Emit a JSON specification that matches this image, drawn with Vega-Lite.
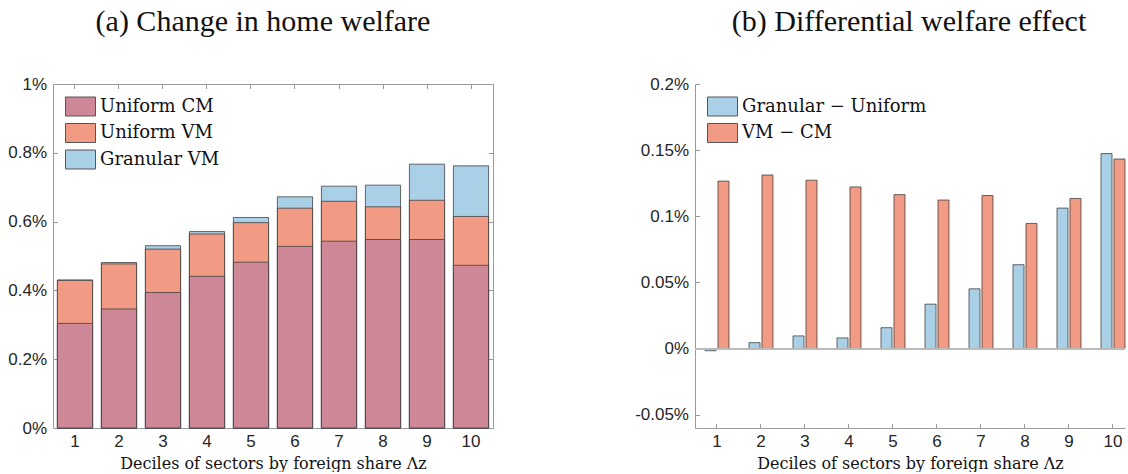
{
  "$schema": "https://vega.github.io/schema/vega-lite/v6.json",
  "padding": {"left": 7, "top": 6, "right": 0, "bottom": 0},
  "spacing": 140,
  "resolve": {"scale": {"color": "independent"}, "legend": {"color": "independent"}},
  "config": {
    "font": "Liberation Serif",
    "axis": {
      "labelFont": "Liberation Sans",
      "labelFontSize": 17,
      "labelColor": "#262626",
      "titleFont": "DejaVu Serif",
      "titleFontSize": 16,
      "titleFontWeight": "normal",
      "titleColor": "#111111",
      "domainColor": "#9a9a9a",
      "tickColor": "#9a9a9a",
      "grid": false
    },
    "title": {"font": "Liberation Serif", "fontSize": 30, "fontWeight": "normal", "color": "#111111", "anchor": "middle"},
    "legend": {"labelFont": "DejaVu Serif", "labelFontSize": 18, "labelColor": "#111111", "labelLimit": 400}
  },
  "hconcat": [
    {
      "width": 440,
      "height": 344,
      "view": {"stroke": "#9a9a9a", "strokeWidth": 1},
      "title": {"text": "(a) Change in home welfare", "baseline": "alphabetic", "offset": 14, "dx": -10},
      "data": {"values": [
        {"decile": 1, "series": "Granular VM", "value": 0.4305},
        {"decile": 2, "series": "Granular VM", "value": 0.481},
        {"decile": 3, "series": "Granular VM", "value": 0.530},
        {"decile": 4, "series": "Granular VM", "value": 0.571},
        {"decile": 5, "series": "Granular VM", "value": 0.612},
        {"decile": 6, "series": "Granular VM", "value": 0.672},
        {"decile": 7, "series": "Granular VM", "value": 0.703},
        {"decile": 8, "series": "Granular VM", "value": 0.706},
        {"decile": 9, "series": "Granular VM", "value": 0.767},
        {"decile": 10, "series": "Granular VM", "value": 0.762},
        {"decile": 1, "series": "Uniform VM", "value": 0.429},
        {"decile": 2, "series": "Uniform VM", "value": 0.477},
        {"decile": 3, "series": "Uniform VM", "value": 0.520},
        {"decile": 4, "series": "Uniform VM", "value": 0.564},
        {"decile": 5, "series": "Uniform VM", "value": 0.597},
        {"decile": 6, "series": "Uniform VM", "value": 0.639},
        {"decile": 7, "series": "Uniform VM", "value": 0.659},
        {"decile": 8, "series": "Uniform VM", "value": 0.643},
        {"decile": 9, "series": "Uniform VM", "value": 0.662},
        {"decile": 10, "series": "Uniform VM", "value": 0.615},
        {"decile": 1, "series": "Uniform CM", "value": 0.304},
        {"decile": 2, "series": "Uniform CM", "value": 0.346},
        {"decile": 3, "series": "Uniform CM", "value": 0.394},
        {"decile": 4, "series": "Uniform CM", "value": 0.441},
        {"decile": 5, "series": "Uniform CM", "value": 0.482},
        {"decile": 6, "series": "Uniform CM", "value": 0.528},
        {"decile": 7, "series": "Uniform CM", "value": 0.543},
        {"decile": 8, "series": "Uniform CM", "value": 0.548},
        {"decile": 9, "series": "Uniform CM", "value": 0.548},
        {"decile": 10, "series": "Uniform CM", "value": 0.473}
      ]},
      "layer": [
        {
          "mark": {"type": "bar", "stroke": "#3a3a3a", "strokeOpacity": 0.75, "strokeWidth": 1, "opacity": 1},
          "encoding": {
            "x": {"field": "decile", "type": "ordinal", "scale": {"paddingInner": 0.2, "paddingOuter": 0.1},
              "axis": {"orient": "bottom", "labelAngle": 0, "domain": false, "tickSize": -4.5, "labelPadding": 10,
                "title": "Deciles of sectors by foreign share Λz", "titlePadding": 6}},
            "y": {"field": "value", "type": "quantitative", "stack": null, "scale": {"domain": [0, 1]},
              "axis": {"orient": "left", "values": [0, 0.2, 0.4, 0.6, 0.8, 1], "labelExpr": "datum.value + '%'", "domain": false, "tickSize": -4.5, "labelPadding": 11, "title": null}},
            "color": {"field": "series", "type": "nominal",
              "scale": {"domain": ["Uniform CM", "Uniform VM", "Granular VM"], "range": ["#ce8797", "#f19a84", "#aad0e8"]},
              "legend": {"title": null, "orient": "top-left", "offset": 12, "padding": 0,
                "symbolType": "M-1,-0.95H2V0.95H-1Z", "symbolSize": 400, "symbolStrokeColor": "#555555", "symbolStrokeWidth": 1, "symbolOpacity": 1,
                "labelOffset": 14, "rowPadding": 3.5}}
          }
        },
        {
          "mark": {"type": "bar", "opacity": 0},
          "encoding": {
            "x": {"field": "decile", "type": "ordinal",
              "axis": {"orient": "top", "labels": false, "domain": false, "tickSize": -4.5, "title": null, "minExtent": 0, "maxExtent": 0}},
            "y": {"field": "value", "type": "quantitative", "stack": null,
              "axis": {"orient": "right", "values": [0, 0.2, 0.4, 0.6, 0.8, 1], "labels": false, "domain": false, "tickSize": -4.5, "title": null, "minExtent": 0, "maxExtent": 0}}
          }
        }
      ],
      "resolve": {"axis": {"x": "independent", "y": "independent"}}
    },
    {
      "width": 430,
      "height": 344,
      "view": {"stroke": null},
      "title": {"text": "(b) Differential welfare effect", "baseline": "alphabetic", "offset": 14, "dx": -1},
      "data": {"values": [
        {"decile": 1, "series": "Granular − Uniform", "value": -0.0016},
        {"decile": 2, "series": "Granular − Uniform", "value": 0.0045},
        {"decile": 3, "series": "Granular − Uniform", "value": 0.0096},
        {"decile": 4, "series": "Granular − Uniform", "value": 0.0081},
        {"decile": 5, "series": "Granular − Uniform", "value": 0.0158},
        {"decile": 6, "series": "Granular − Uniform", "value": 0.0336},
        {"decile": 7, "series": "Granular − Uniform", "value": 0.0452},
        {"decile": 8, "series": "Granular − Uniform", "value": 0.0634},
        {"decile": 9, "series": "Granular − Uniform", "value": 0.1062},
        {"decile": 10, "series": "Granular − Uniform", "value": 0.1474},
        {"decile": 1, "series": "VM − CM", "value": 0.1266},
        {"decile": 2, "series": "VM − CM", "value": 0.1312},
        {"decile": 3, "series": "VM − CM", "value": 0.1273},
        {"decile": 4, "series": "VM − CM", "value": 0.1222},
        {"decile": 5, "series": "VM − CM", "value": 0.1164},
        {"decile": 6, "series": "VM − CM", "value": 0.1123},
        {"decile": 7, "series": "VM − CM", "value": 0.1157},
        {"decile": 8, "series": "VM − CM", "value": 0.0946},
        {"decile": 9, "series": "VM − CM", "value": 0.1135},
        {"decile": 10, "series": "VM − CM", "value": 0.1433}
      ]},
      "layer": [
        {
          "mark": {"type": "bar", "stroke": "#3a3a3a", "strokeOpacity": 0.75, "strokeWidth": 1, "opacity": 1},
          "encoding": {
            "x": {"field": "decile", "type": "ordinal", "scale": {"paddingInner": 0.4545, "paddingOuter": 0.1136, "align": 1},
              "axis": {"orient": "bottom", "labelAngle": 0, "domain": true, "tickSize": -4.5, "labelPadding": 10,
                "title": "Deciles of sectors by foreign share Λz", "titlePadding": 6}},
            "xOffset": {"field": "series", "type": "nominal", "scale": {"paddingInner": 0.15, "paddingOuter": 0}},
            "y": {"field": "value", "type": "quantitative", "scale": {"domain": [-0.05, 0.2]},
              "axis": {"orient": "left", "values": [-0.05, 0, 0.05, 0.1, 0.15, 0.2], "labelExpr": "datum.value + '%'", "domain": true, "tickSize": -4.5, "labelPadding": 11, "title": null}},
            "color": {"field": "series", "type": "nominal",
              "scale": {"domain": ["Granular − Uniform", "VM − CM"], "range": ["#aad0e8", "#f19a84"]},
              "legend": {"title": null, "orient": "top-left", "offset": 12, "padding": 0,
                "symbolType": "M-1,-0.95H2V0.95H-1Z", "symbolSize": 400, "symbolStrokeColor": "#555555", "symbolStrokeWidth": 1, "symbolOpacity": 1,
                "labelOffset": 14, "rowPadding": 3.5}}
          }
        },
        {
          "mark": {"type": "rule", "color": "#bbbbbb", "strokeWidth": 1.2},
          "encoding": {"y": {"datum": 0}}
        }
      ]
    }
  ]
}
